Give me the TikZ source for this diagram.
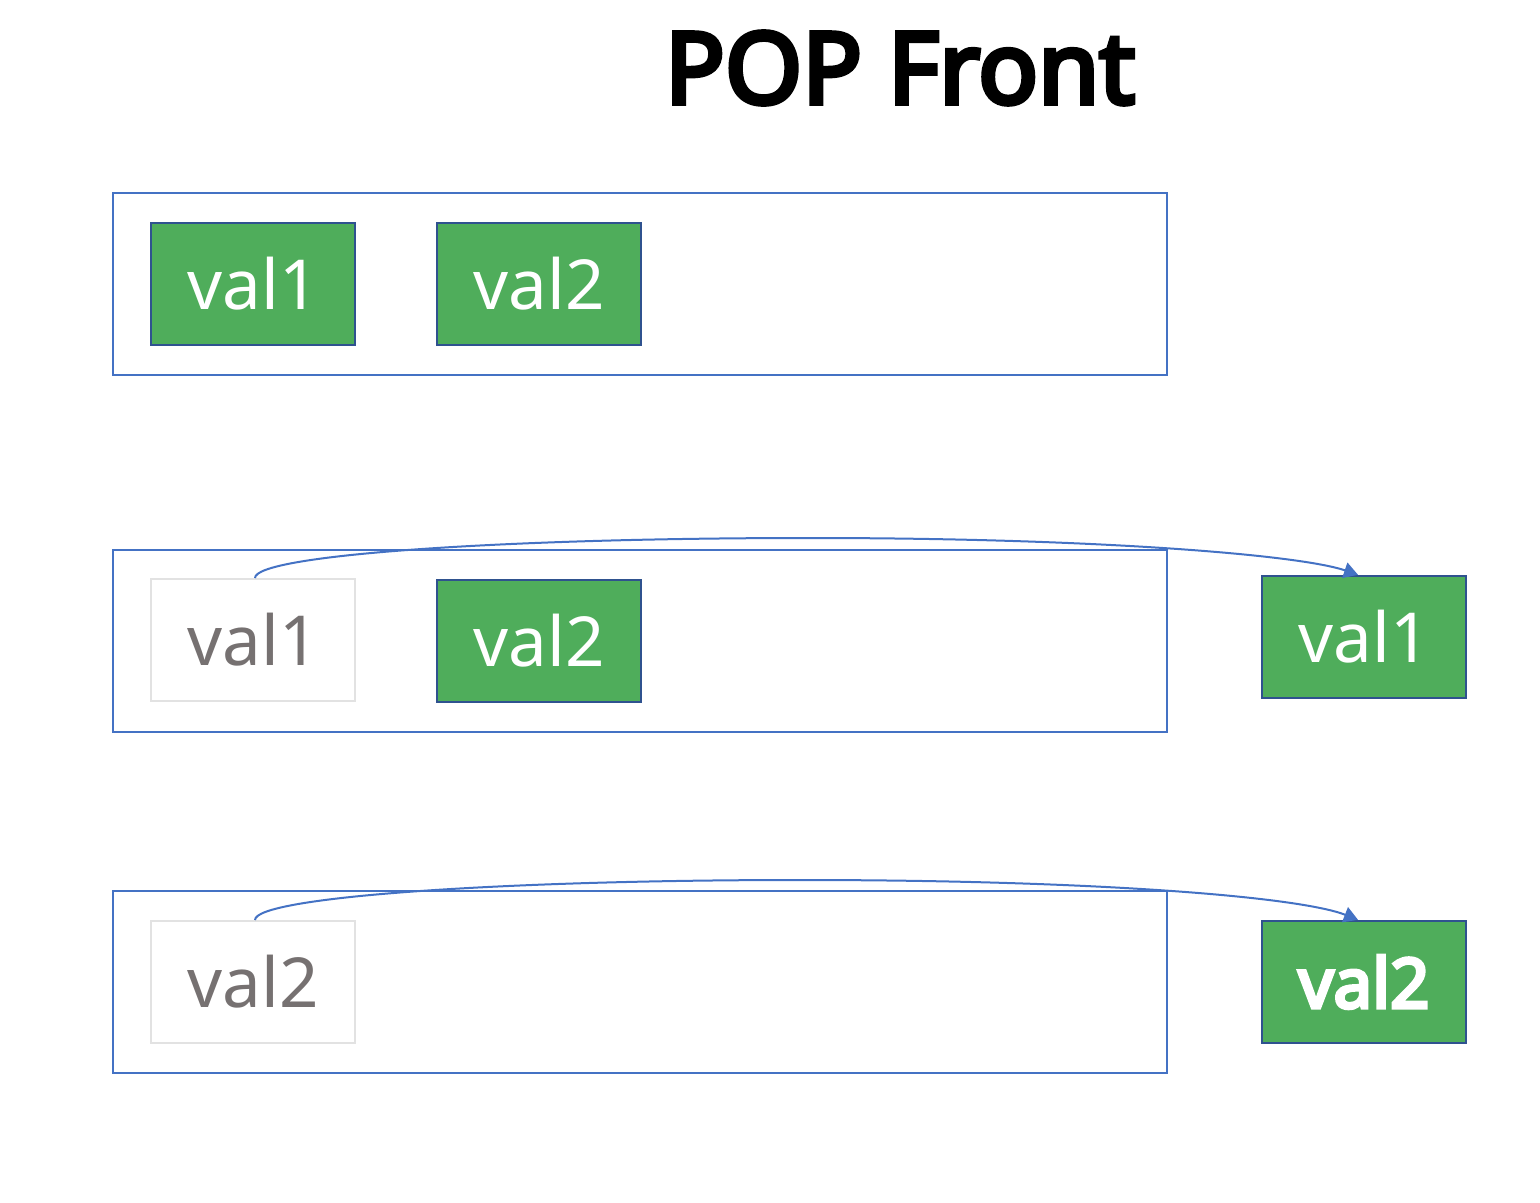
\documentclass[tikz,border=0pt]{standalone}
\usepackage{fontspec}
\setmainfont{Noto Sans}[AutoFakeBold=5]
\usetikzlibrary{arrows.meta}
\definecolor{cgreen}{HTML}{4FAD5B}
\definecolor{cdark}{HTML}{2F528F}
\definecolor{cblue}{HTML}{4472C4}
\definecolor{cghost}{HTML}{E2E2E2}
\definecolor{cgtext}{HTML}{767171}
\begin{document}
\begin{tikzpicture}[x=0.5pt,y=-0.5pt,
  outer/.style={draw=cblue,line width=1pt,minimum width=527pt,minimum height=91pt,inner sep=0pt},
  valbox/.style={draw=cdark,line width=1.2pt,fill=cgreen,text=white,minimum width=102pt,minimum height=61pt,inner sep=0pt,font=\fontsize{34.5}{40}\selectfont},
  ghost/.style={draw=cghost,line width=1pt,text=cgtext,minimum width=102pt,minimum height=61pt,inner sep=0pt,font=\fontsize{34.5}{40}\selectfont},
  mv/.style={draw=cblue,line width=1pt,-{Triangle[length=7pt,width=8pt]}}]
\useasboundingbox (0,0) rectangle (1540,1203);
\node (title) at (900,68) {\fontsize{49.5}{56}\selectfont\bfseries POP Front};
% row 1
\node[outer] (o1) at (640,284) {};
\node[valbox] (a1) at (253,284) {val1};
\node[valbox] (a2) at (539,284) {val2};
% row 2
\node[outer] (o2) at (640,641) {};
\node[ghost] (b1) at (253,640) {val1};
\node[valbox] (b2) at (539,641) {val2};
\node[valbox] (b3) at (1364,637) {val1};
% row 3
\node[outer] (o3) at (640,982) {};
\node[ghost] (c1) at (253,982) {val2};
\node[valbox,font=\fontsize{34.5}{40}\selectfont\bfseries] (c3) at (1364,982) {val2};
% arrows
\draw[mv] ([xshift=1pt]b1.north) .. controls (255,555) and (500,538) .. (810,538) .. controls (1100,538) and (1300,555) .. ([xshift=-3pt]b3.north);
\draw[mv] ([xshift=1pt]c1.north) .. controls (255,897) and (500,880) .. (800,880) .. controls (1100,880) and (1300,897) .. ([xshift=-3pt]c3.north);
\end{tikzpicture}
\end{document}
